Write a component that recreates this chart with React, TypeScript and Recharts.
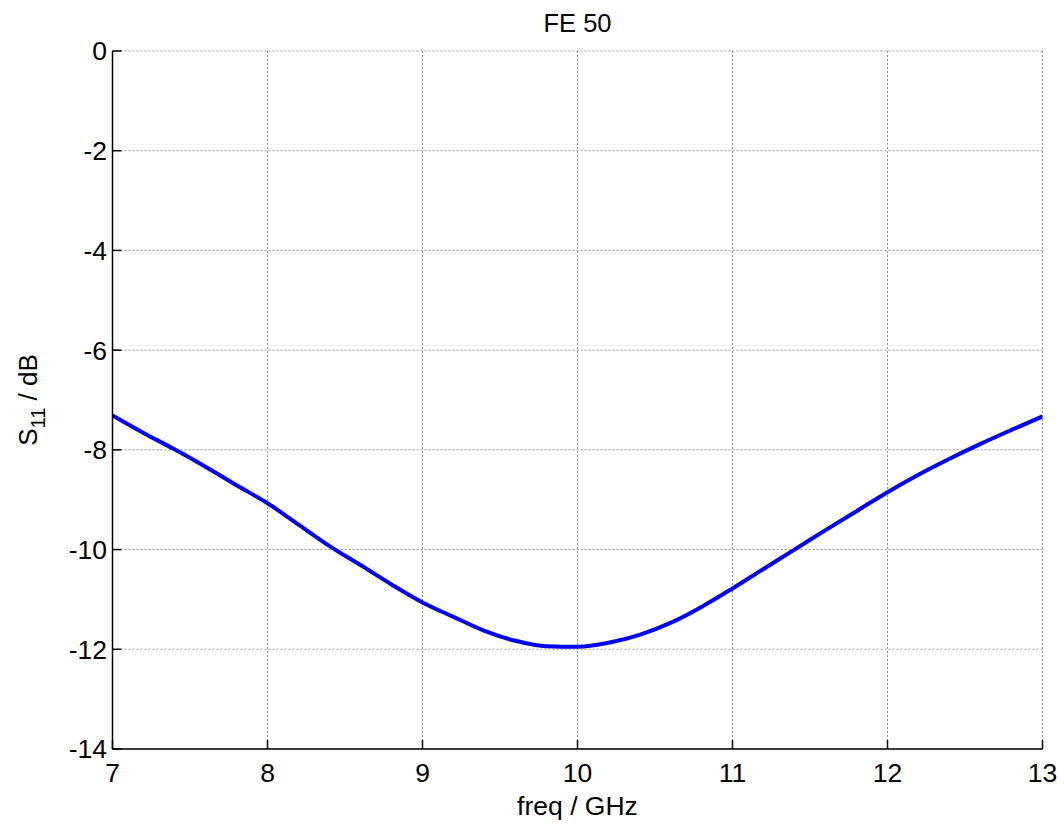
import React from 'react';
import { LineChart, Line, XAxis, YAxis, CartesianGrid } from 'recharts';

const freqGHz = [7.0, 7.2, 7.4, 7.6, 7.8, 8.0, 8.2, 8.4, 8.6, 8.8, 9.0, 9.2, 9.4, 9.6, 9.8, 10.0, 10.2, 10.4, 10.6, 10.8, 11.0, 11.2, 11.4, 11.6, 11.8, 12.0, 12.2, 12.4, 12.6, 12.8, 13.0];
const s11dB = [-7.31, -7.66, -7.99, -8.34, -8.71, -9.07, -9.5, -9.93, -10.31, -10.7, -11.06, -11.35, -11.63, -11.83, -11.94, -11.95, -11.87, -11.71, -11.47, -11.15, -10.78, -10.39, -10.0, -9.61, -9.23, -8.85, -8.5, -8.18, -7.88, -7.6, -7.33];
const xTicks = [7, 8, 9, 10, 11, 12, 13];
const yTicks = [-14, -12, -10, -8, -6, -4, -2, 0];
const title = 'FE 50';
const xLabel = 'freq / GHz';

const data = freqGHz.map((f, i) => ({ f, s: s11dB[i] }));

const FONT = '"Liberation Sans", Arial, Helvetica, sans-serif';

const XLabel = (props: any) => {
  const vb = props.viewBox || {};
  const cx = vb.x + vb.width / 2;
  return (
    <text x={cx} y={815} textAnchor="middle" fontSize={26.5} fontFamily={FONT} fill="#000">
      {xLabel}
    </text>
  );
};

const YLabel = (props: any) => {
  const vb = props.viewBox || {};
  const cy = vb.y + vb.height / 2;
  const x = 37;
  return (
    <text
      x={x}
      y={cy}
      transform={`rotate(-90, ${x}, ${cy})`}
      textAnchor="middle"
      fontSize={26}
      fontFamily={FONT}
      fill="#000"
    >
      <tspan>S</tspan>
      <tspan fontSize={20} dy={8}>11</tspan>
      <tspan dy={-8}>{' / dB'}</tspan>
    </text>
  );
};

export default function App() {
  return (
    <div style={{ position: 'absolute', left: 0, top: 0, width: 1064, height: 824, background: '#fff' }}>
      <LineChart
        width={1064}
        height={824}
        data={data}
        margin={{ top: 51, right: 21.5, left: 0, bottom: 0 }}
        style={{ fontFamily: FONT }}
      >
        <CartesianGrid
          xAxisId="bottom"
          yAxisId="left"
          stroke="#7a7a7a"
          strokeWidth={0.8}
          strokeDasharray="2 2"
          horizontalValues={yTicks}
          verticalValues={xTicks}
        />
        <XAxis
          xAxisId="bottom"
          dataKey="f"
          type="number"
          domain={[7, 13]}
          ticks={xTicks}
          allowDataOverflow
          height={75}
          tickSize={-9}
          tickMargin={23}
          axisLine={{ stroke: '#000', strokeWidth: 1.5 }}
          tickLine={{ stroke: '#000', strokeWidth: 1.5 }}
          tick={{ fill: '#000', fontSize: 26.5, fontFamily: FONT }}
          label={<XLabel />}
        />
        <XAxis
          xAxisId="top"
          orientation="top"
          dataKey="f"
          type="number"
          domain={[7, 13]}
          ticks={xTicks}
          allowDataOverflow
          height={0}
          tickSize={-9}
          tick={false}
          axisLine={{ stroke: '#000', strokeWidth: 1.5 }}
          tickLine={{ stroke: '#000', strokeWidth: 1.5 }}
        />
        <YAxis
          yAxisId="left"
          type="number"
          domain={[-14, 0]}
          ticks={yTicks}
          allowDataOverflow
          width={112.5}
          tickSize={-9}
          tickMargin={14.5}
          axisLine={{ stroke: '#000', strokeWidth: 1.5 }}
          tickLine={{ stroke: '#000', strokeWidth: 1.5 }}
          tick={{ fill: '#000', fontSize: 26.5, fontFamily: FONT }}
          label={<YLabel />}
        />
        <YAxis
          yAxisId="right"
          orientation="right"
          type="number"
          domain={[-14, 0]}
          ticks={yTicks}
          allowDataOverflow
          width={0}
          tickSize={-9}
          tick={false}
          axisLine={{ stroke: '#000', strokeWidth: 1.5 }}
          tickLine={{ stroke: '#000', strokeWidth: 1.5 }}
        />
        <Line
          xAxisId="bottom"
          yAxisId="left"
          dataKey="s"
          type="monotone"
          stroke="#0000ff"
          strokeWidth={4}
          dot={false}
          isAnimationActive={false}
        />
      </LineChart>
      <svg
        width={1064}
        height={50}
        style={{ position: 'absolute', left: 0, top: 0, pointerEvents: 'none' }}
      >
        <text x={577.5} y={32} textAnchor="middle" fontSize={25.5} fontFamily={FONT} fill="#000">
          {title}
        </text>
      </svg>
    </div>
  );
}
